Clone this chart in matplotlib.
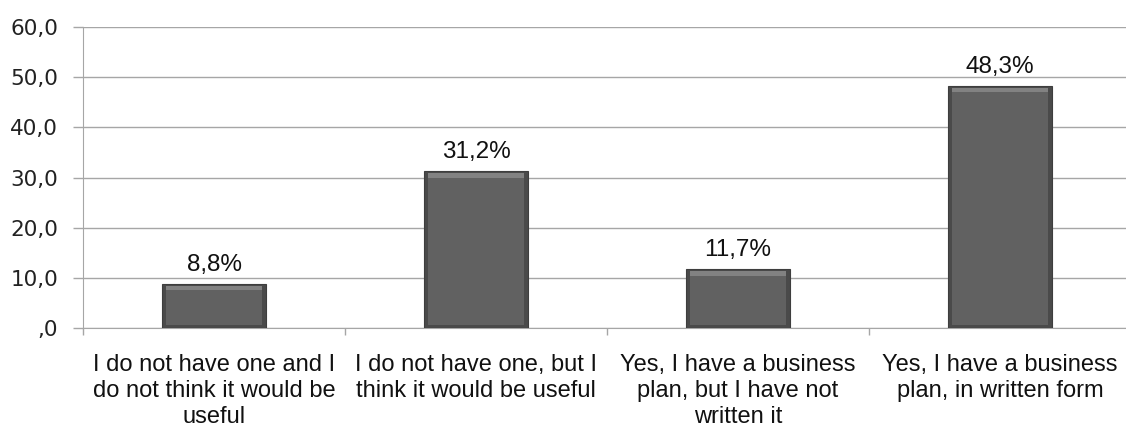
import matplotlib
matplotlib.use("Agg")
import matplotlib.pyplot as plt
import numpy as np

categories = [
    "I do not have one and I\ndo not think it would be\nuseful",
    "I do not have one, but I\nthink it would be useful",
    "Yes, I have a business\nplan, but I have not\nwritten it",
    "Yes, I have a business\nplan, in written form",
]
values = [8.8, 31.2, 11.7, 48.3]
value_labels = ["8,8%", "31,2%", "11,7%", "48,3%"]
yticks = [0, 10, 20, 30, 40, 50, 60]
ytick_labels = [",0", "10,0", "20,0", "30,0", "40,0", "50,0", "60,0"]

W, H = 1126, 430
fig = plt.figure(figsize=(W / 100, H / 100), dpi=100)
left, right = 83, 1131
top, bottom = 27, 328
ax = fig.add_axes([left / W, (H - bottom) / H, (right - left) / W, (bottom - top) / H])

x = np.arange(len(values))
vals = np.array(values)
bw = 0.4
# outer (dark edge) bar
ax.bar(x, vals, width=bw, color="#4a4a4a", edgecolor="#3e3e3e", linewidth=0.8, zorder=3)
# inner face
inset = 0.5
ax.bar(x, vals - 2 * inset, bottom=inset, width=bw - 0.035, color="#616161", linewidth=0, zorder=4)
# top bevel highlight
ax.bar(x, np.full(len(vals), 0.9), bottom=vals - 1.3, width=bw - 0.035, color="#828282", linewidth=0, zorder=5)

for xi, v, lab in zip(x, vals, value_labels):
    ax.text(xi, v + 1.6, lab, ha="center", va="bottom", fontsize=17.5,
            family="Liberation Sans", color="#111111", zorder=6)

ax.set_xlim(-0.5, len(values) - 0.5)
ax.set_ylim(0, 60)
ax.set_yticks(yticks)
ax.set_yticklabels(ytick_labels, family="DejaVu Sans", fontsize=15.5, color="#222222")
ax.yaxis.grid(True, color="#a6a6a6", linewidth=1.0, zorder=0)
ax.set_axisbelow(True)

ax.set_xticks(x)
ax.set_xticklabels(categories, family="Liberation Sans", fontsize=17, color="#111111",
                   linespacing=1.22)
ax.tick_params(axis="x", length=0, pad=19)
ax.set_xticks(np.arange(-0.5, len(values)), minor=True)
ax.tick_params(axis="x", which="minor", length=5, color="#a6a6a6", width=1)
ax.tick_params(axis="y", length=7, color="#a6a6a6", width=1, pad=11)

for s in ["top", "right"]:
    ax.spines[s].set_visible(False)
ax.spines["left"].set_color("#a6a6a6")
ax.spines["bottom"].set_color("#a6a6a6")

fig.savefig("out.png", dpi=100)
